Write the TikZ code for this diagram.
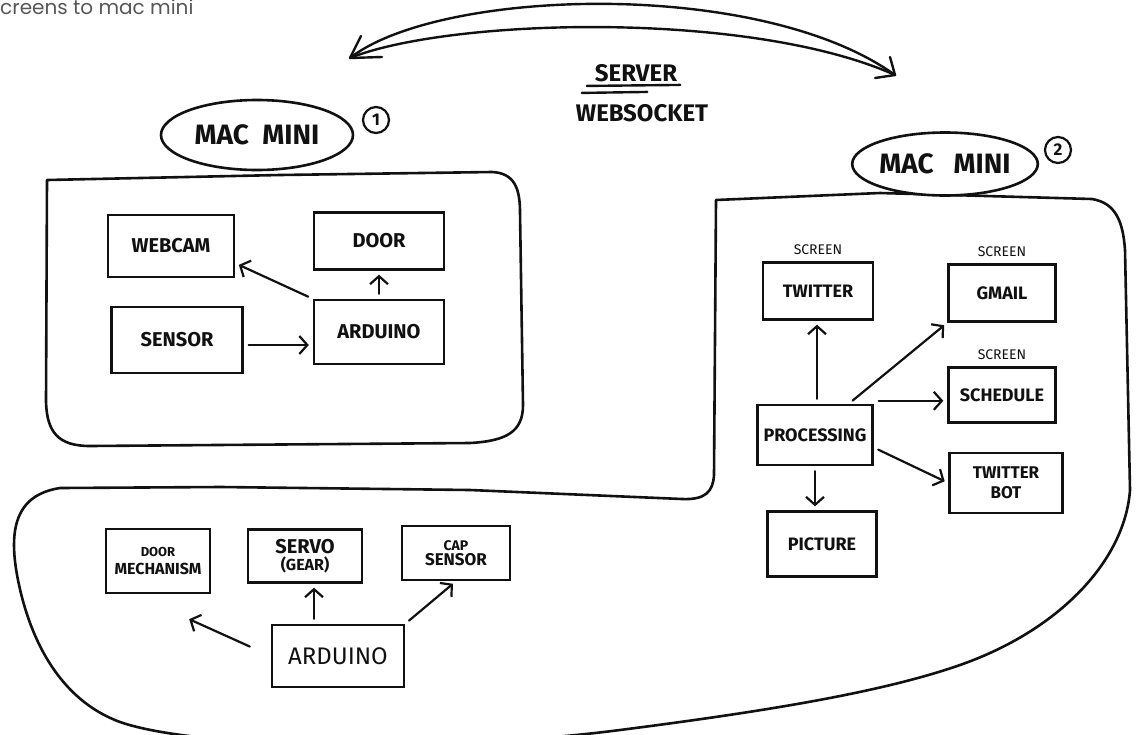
\documentclass[tikz,border=0pt]{standalone}
\usepackage{fontspec}
\usetikzlibrary{arrows.meta,positioning,shapes.geometric}
\newfontfamily\handfont{Fira Sans}
\newfontfamily\notefont{Poppins}
\definecolor{ink}{HTML}{111111}
\definecolor{muted}{HTML}{575757}

\begin{document}
\begin{tikzpicture}[
    x=1pt, y=-1pt,
    outline/.style={
        draw=ink,
        line width=2.6pt,
        line join=round,
        line cap=round
    },
    box/.style={
        draw=ink,
        fill=white,
        line width=2.4pt,
        align=center,
        inner sep=2pt,
        text=ink,
        font=\handfont\bfseries\fontsize{20}{20}\selectfont
    },
    smallbox/.style={
        box,
        font=\handfont\bfseries\fontsize{18}{18}\selectfont
    },
    macbubble/.style={
        ellipse,
        draw=ink,
        fill=white,
        line width=2.6pt,
        inner sep=0pt,
        text=ink,
        font=\handfont\bfseries\fontsize{28}{28}\selectfont
    },
    tag/.style={
        circle,
        draw=ink,
        line width=2.2pt,
        minimum size=26pt,
        inner sep=0pt,
        text=ink,
        font=\handfont\bfseries\fontsize{17}{17}\selectfont
    },
    hand/.style={
        inner sep=0pt,
        text=ink,
        font=\handfont\bfseries\fontsize{24}{24}\selectfont
    },
    screenlbl/.style={
        inner sep=0pt,
        text=ink,
        font=\handfont\fontsize{14}{14}\selectfont
    },
    note/.style={
        inner sep=0pt,
        text=muted,
        font=\notefont\fontsize{20}{20}\selectfont
    },
    arrow/.style={
        draw=ink,
        line width=2.2pt,
        line cap=round,
        -{Straight Barb[length=8pt,width=18pt]},
        shorten <=5pt,
        shorten >=4pt
    },
    wsline/.style={draw=ink, line width=2.4pt, line cap=round, line join=round},
    underline/.style={draw=ink, line width=2.4pt, line cap=round}
]

\useasboundingbox[fill=white] (0,0) rectangle (1137,734);

\node[note, anchor=west] (caption) at (0,7) {creens to mac mini};

% Server link between the two machines.
\coordinate (wsLeft) at (350,58);
\coordinate (wsRight) at (895,75);
\draw[wsline] (wsLeft) .. controls (440,-12) and (760,-22) .. (wsRight);
\draw[wsline] (wsLeft) .. controls (450,18) and (750,10) .. (wsRight);
\draw[wsline] (wsLeft) -- ++(11,-22);
\draw[wsline] (wsLeft) -- ++(32,-1);
\draw[wsline] (wsRight) -- ++(-5,-18);
\draw[wsline] (wsRight) -- ++(-20,3);

\node[hand] (server) at (636,73) {SERVER};
\node[hand] (websocket) at (642,113) {WEBSOCKET};
\draw[underline] ([xshift=-8pt,yshift=-4pt]server.south west) -- ([xshift=3pt,yshift=-3pt]server.south east);
\draw[underline] ([xshift=-13pt,yshift=-11pt]server.south west) -- ([xshift=-30pt,yshift=-10pt]server.south east);

% Panel outlines.
\draw[outline] (47,180) -- (280,175) -- (492,172) .. controls (514,173) and (520,188) .. (520,212)
    -- (523,405) .. controls (523,432) and (506,441) .. (470,443) -- (90,446)
    .. controls (58,446) and (47,432) .. (46,402) -- cycle;
\draw[outline] (716,200) -- (880,193) -- (1092,199) .. controls (1116,203) and (1123,222) .. (1125,250)
    -- (1130,490) .. controls (1125,560) and (1060,630) .. (960,665)
    .. controls (880,693) and (760,712) .. (620,730) .. controls (450,752) and (200,750) .. (120,722)
    .. controls (60,700) and (30,640) .. (18,580) .. controls (8,530) and (15,495) .. (60,488)
    -- (221,487) -- (470,490) -- (682,499) .. controls (705,500) and (713,492) .. (714,475) -- cycle;

% Machine labels.
\node[macbubble, minimum width=192pt, minimum height=70pt] (macOne) at (257,135) {MAC~~MINI};
\node[tag] (macOneNo) at (376,120) {1};
\node[macbubble, minimum width=185pt, minimum height=63pt] (macTwo) at (945,164) {MAC~~~MINI};
\node[tag] (macTwoNo) at (1058,150) {2};

% Mac mini 1: camera and door.
\node[box, minimum width=126pt, minimum height=62pt] (webcam) at (171,246) {WEBCAM};
\node[box, minimum width=130pt, minimum height=57pt] (door) at (379,241) {DOOR};
\node[box, minimum width=131pt, minimum height=66pt] (sensor) at (177,340) {SENSOR};
\node[box, minimum width=130pt, minimum height=64pt] (arduinoTop) at (379,332) {ARDUINO};

\draw[arrow] ([yshift=-5pt]sensor.east) -- ([yshift=-5pt]sensor.east -| arduinoTop.west);
\draw[arrow] (arduinoTop.north) -- (door.south);
\draw[arrow] (arduinoTop.north west) -- (webcam.-15);

% Mac mini 2: screens.
\node[smallbox, minimum width=110pt, minimum height=57pt] (twitter) at (818,291) {TWITTER};
\node[smallbox, minimum width=107pt, minimum height=57pt] (gmail) at (1002,293) {GMAIL};
\node[smallbox, minimum width=107pt, minimum height=55pt] (schedule) at (1002,395) {SCHEDULE};
\node[smallbox, minimum width=115pt, minimum height=60pt] (processing) at (815,435) {PROCESSING};
\node[smallbox, minimum width=113pt, minimum height=60pt, font=\handfont\bfseries\fontsize{17}{20}\selectfont] (twitterBot) at (1006,483) {TWITTER\\BOT};
\node[smallbox, minimum width=109pt, minimum height=65pt] (picture) at (822,544) {PICTURE};

\node[screenlbl, above=6pt of twitter] (twitterScr) {SCREEN};
\node[screenlbl, above=6pt of gmail] (gmailScr) {SCREEN};
\node[screenlbl, above=6pt of schedule] (scheduleScr) {SCREEN};

\draw[arrow] ([xshift=2pt]processing.north) -- ([xshift=2pt]processing.north |- twitter.south);
\draw[arrow] ([xshift=-25pt]processing.north east) -- (gmail.south west);
\draw[arrow] ([yshift=3pt]processing.north east) -- ([yshift=3pt]processing.north east -| schedule.west);
\draw[arrow] (processing.-12) -- (twitterBot.west);
\draw[arrow] (processing.south) -- (picture.north -| processing.south);

% Lower part: door hardware.
\node[box, minimum width=104pt, minimum height=64pt, font=\handfont\bfseries\fontsize{16}{18}\selectfont] (doorMech) at (158,561) {{\fontsize{13}{13}\selectfont DOOR}\\MECHANISM};
\node[box, minimum width=114pt, minimum height=53pt, font=\handfont\bfseries\fontsize{20}{17}\selectfont] (servo) at (305,556) {SERVO\\{\fontsize{16}{16}\selectfont (GEAR)}};
\node[box, minimum width=108pt, minimum height=54pt, font=\handfont\bfseries\fontsize{17}{15}\selectfont] (capSensor) at (456,553) {{\fontsize{14}{14}\selectfont CAP}\\SENSOR};
\node[box, minimum width=132pt, minimum height=62pt, font=\handfont\fontsize{24}{24}\selectfont] (arduinoLow) at (338,656) {ARDUINO};

\draw[arrow] ([xshift=-24pt]arduinoLow.north) -- ([xshift=-24pt]arduinoLow.north |- servo.south);
\draw[arrow, shorten <=23pt, shorten >=0pt] (arduinoLow.west) -- ([xshift=-22pt,yshift=-25pt]doorMech.south east);
\draw[arrow] (arduinoLow.north east) -- (capSensor.south);

\end{tikzpicture}
\end{document}
